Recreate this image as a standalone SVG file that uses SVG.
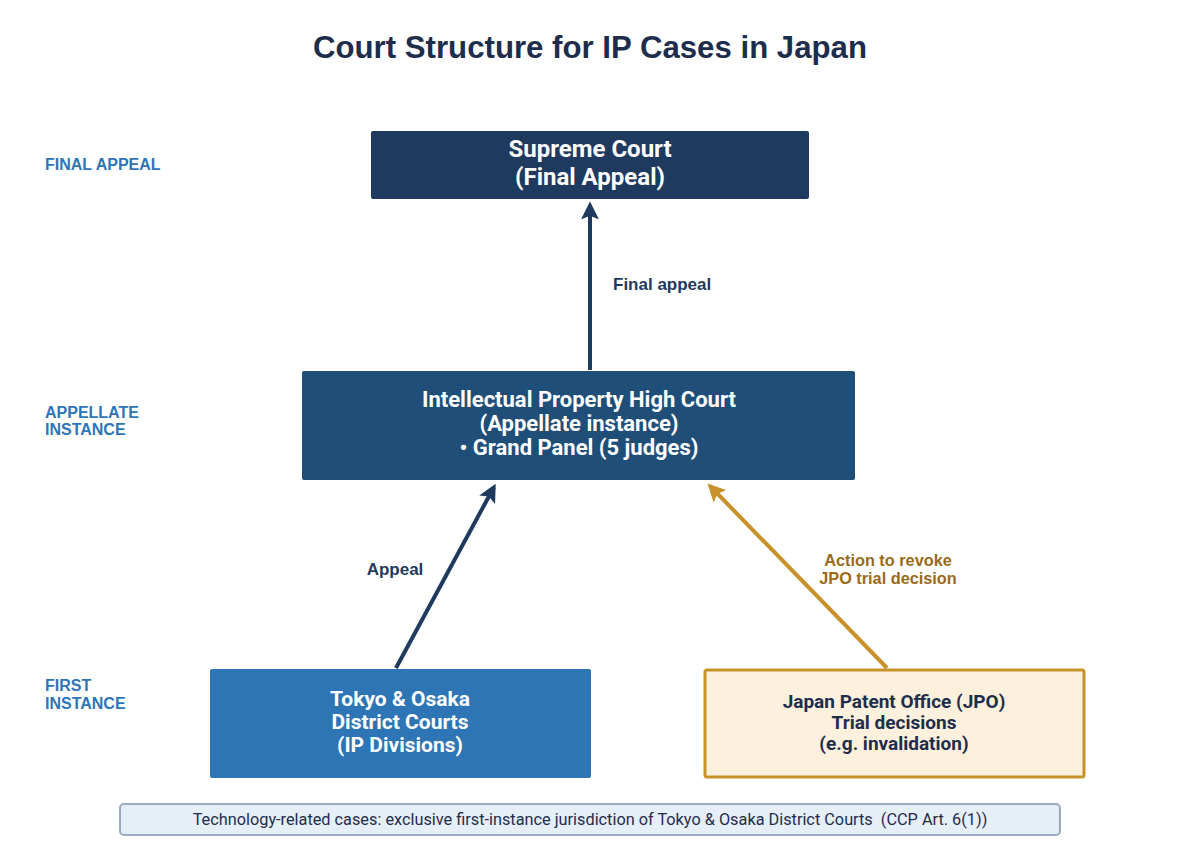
<svg xmlns="http://www.w3.org/2000/svg" width="1180" height="860" viewBox="0 0 1180 860">
<defs>
<style>
text{font-family:"Liberation Sans",Arial,sans-serif;}
.title{font-size:31.2px;font-weight:bold;fill:#1f2d4d;}
.side{font-size:16px;font-weight:bold;fill:#2e75b6;}
.wt{fill:#ffffff;font-weight:bold;text-anchor:middle;font-family:Roboto,"Liberation Sans",sans-serif;}
.dk{fill:#1f2d4d;font-weight:bold;text-anchor:middle;font-family:Roboto,"Liberation Sans",sans-serif;}
.lbl{font-size:17px;font-weight:bold;fill:#1f3a5f;}
.glbl{font-size:16.3px;font-weight:bold;fill:#9a6a1a;text-anchor:middle;}
.foot{font-size:16.3px;fill:#1f2d4d;text-anchor:middle;font-family:Roboto,"Liberation Sans",sans-serif;}
.navy{stroke:#1f3a5f;stroke-width:4;fill:none;}
.gold{stroke:#c8922a;stroke-width:4;fill:none;}
</style>
<marker id="ahN" viewBox="0 0 10 10" refX="8" refY="5" markerWidth="4.5" markerHeight="4.5" orient="auto" markerUnits="strokeWidth">
<path d="M0,0 L10,5 L0,10 L2,5 z" fill="#1f3a5f"/>
</marker>
<marker id="ahG" viewBox="0 0 10 10" refX="8" refY="5" markerWidth="4.5" markerHeight="4.5" orient="auto" markerUnits="strokeWidth">
<path d="M0,0 L10,5 L0,10 L2,5 z" fill="#c8922a"/>
</marker>
</defs>
<rect width="1180" height="860" fill="#ffffff"/>
<text class="title" x="590" y="58" text-anchor="middle">Court Structure for IP Cases in Japan</text>

<g id="tier-labels">
<text class="side" x="45" y="170">FINAL APPEAL</text>
<text class="side" x="45" y="418">APPELLATE</text>
<text class="side" x="45" y="435">INSTANCE</text>
<text class="side" x="45" y="691">FIRST</text>
<text class="side" x="45" y="709">INSTANCE</text>
</g>

<g id="connectors">
<line class="navy" x1="590" y1="370" x2="590" y2="205" marker-end="url(#ahN)"/>
<line class="navy" x1="396" y1="668" x2="494" y2="487" marker-end="url(#ahN)"/>
<line class="gold" x1="887" y1="668" x2="710" y2="486" marker-end="url(#ahG)"/>
<text class="lbl" x="613" y="290">Final appeal</text>
<text class="lbl" x="395" y="575" text-anchor="middle">Appeal</text>
<text class="glbl" x="888" y="566">Action to revoke</text>
<text class="glbl" x="888" y="584">JPO trial decision</text>
</g>

<g id="supreme">
<rect x="371" y="131" width="438" height="68" rx="2" fill="#1f3a5f"/>
<text class="wt" x="590" y="157" font-size="24">Supreme Court</text>
<text class="wt" x="590" y="185" font-size="24">(Final Appeal)</text>
</g>

<g id="highcourt">
<rect x="302" y="371" width="553" height="109" rx="2" fill="#1f4e79"/>
<text class="wt" x="579" y="407" font-size="22">Intellectual Property High Court</text>
<text class="wt" x="579" y="431" font-size="22">(Appellate instance)</text>
<text class="wt" x="579" y="455" font-size="22">• Grand Panel (5 judges)</text>
</g>

<g id="district">
<rect x="210" y="669" width="381" height="109" rx="2" fill="#2e75b6"/>
<text class="wt" x="400" y="706" font-size="21">Tokyo &amp; Osaka</text>
<text class="wt" x="400" y="729" font-size="21">District Courts</text>
<text class="wt" x="400" y="752" font-size="21">(IP Divisions)</text>
</g>

<g id="jpo">
<rect x="705" y="670" width="379" height="107" rx="2" fill="#fdf0dc" stroke="#c8922a" stroke-width="3"/>
<text class="dk" x="894" y="708" font-size="19">Japan Patent Office (JPO)</text>
<text class="dk" x="894" y="729" font-size="19">Trial decisions</text>
<text class="dk" x="894" y="750" font-size="19">(e.g. invalidation)</text>
</g>

<g id="footer">
<rect x="120" y="804" width="940" height="31" rx="4" fill="#e6eef8" stroke="#9aaac0" stroke-width="2"/>
<text class="foot" x="590" y="825" xml:space="preserve">Technology-related cases: exclusive first-instance jurisdiction of Tokyo &amp; Osaka District Courts  (CCP Art. 6(1))</text>
</g>
</svg>
